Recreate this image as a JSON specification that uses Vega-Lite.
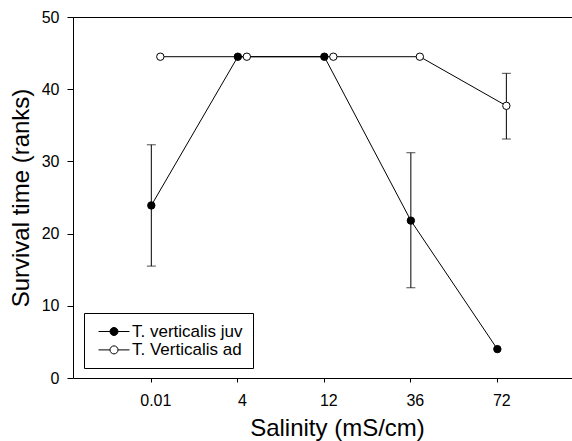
{
  "$schema": "https://vega.github.io/schema/vega-lite/v6.json",
  "width": 499,
  "height": 361,
  "autosize": {"type": "none"},
  "padding": {"left": 73, "top": 17, "right": 0, "bottom": 63},
  "background": "white",
  "config": {
    "view": {"stroke": null},
    "font": "Liberation Sans",
    "axis": {
      "grid": false,
      "domainColor": "black",
      "tickColor": "black",
      "labelColor": "black",
      "titleColor": "black",
      "labelFont": "Liberation Sans",
      "titleFont": "Liberation Sans",
      "titleFontWeight": "normal",
      "labelFontSize": 16,
      "titleFontSize": 24
    }
  },
  "data": {
    "values": [
      {"series": "T. verticalis juv", "salinity": "0.01", "rank": 23.9, "lo": 15.5, "hi": 32.3},
      {"series": "T. verticalis juv", "salinity": "4", "rank": 44.5},
      {"series": "T. verticalis juv", "salinity": "12", "rank": 44.5},
      {"series": "T. verticalis juv", "salinity": "36", "rank": 21.8, "lo": 12.5, "hi": 31.2},
      {"series": "T. verticalis juv", "salinity": "72", "rank": 4.0},
      {"series": "T. Verticalis ad", "salinity": "0.01", "rank": 44.5},
      {"series": "T. Verticalis ad", "salinity": "4", "rank": 44.5},
      {"series": "T. Verticalis ad", "salinity": "12", "rank": 44.5},
      {"series": "T. Verticalis ad", "salinity": "36", "rank": 44.5},
      {"series": "T. Verticalis ad", "salinity": "72", "rank": 37.7, "lo": 33.1, "hi": 42.2}
    ]
  },
  "layer": [
    {
      "mark": {"type": "rule", "color": "black", "strokeWidth": 1, "yOffset": 0.5},
      "encoding": {
        "y": {"datum": 50, "type": "quantitative", "scale": {"domain": [0, 50]}, "axis": {"title": "Survival time (ranks)"}}
      }
    },
    {
      "mark": {"type": "line", "color": "black", "strokeWidth": 1},
      "encoding": {
        "x": {"field": "salinity", "type": "ordinal", "sort": ["0.01", "4", "12", "36", "72"],
          "scale": {"type": "band", "paddingInner": 0.792, "paddingOuter": 0.78, "align": 0.547},
          "axis": {"title": "Salinity (mS/cm)", "labelAngle": 0, "tickSize": 4, "labelPadding": 10, "titlePadding": 8, "titleX": 264, "bandPosition": 0.25}},
        "xOffset": {"field": "series", "type": "nominal", "sort": ["T. verticalis juv", "T. Verticalis ad"], "scale": {"paddingInner": 0, "paddingOuter": 0}},
        "y": {"field": "rank", "type": "quantitative", "scale": {"domain": [0, 50]},
          "axis": {"title": "Survival time (ranks)", "values": [0, 10, 20, 30, 40, 50], "tickSize": 6, "labelPadding": 8, "titlePadding": 8}},
        "detail": {"field": "series"}
      }
    },
    {
      "transform": [{"filter": "isValid(datum.lo)"}],
      "mark": {"type": "rule", "color": "black", "strokeWidth": 1},
      "encoding": {
        "x": {"field": "salinity", "type": "ordinal", "sort": ["0.01", "4", "12", "36", "72"]},
        "xOffset": {"field": "series", "type": "nominal", "sort": ["T. verticalis juv", "T. Verticalis ad"]},
        "y": {"field": "lo", "type": "quantitative"},
        "y2": {"field": "hi"}
      }
    },
    {
      "transform": [{"filter": "isValid(datum.lo)"}],
      "mark": {"type": "tick", "color": "black", "thickness": 1, "size": 9, "orient": "horizontal"},
      "encoding": {
        "x": {"field": "salinity", "type": "ordinal", "sort": ["0.01", "4", "12", "36", "72"]},
        "xOffset": {"field": "series", "type": "nominal", "sort": ["T. verticalis juv", "T. Verticalis ad"]},
        "y": {"field": "lo", "type": "quantitative"}
      }
    },
    {
      "transform": [{"filter": "isValid(datum.hi)"}],
      "mark": {"type": "tick", "color": "black", "thickness": 1, "size": 9, "orient": "horizontal"},
      "encoding": {
        "x": {"field": "salinity", "type": "ordinal", "sort": ["0.01", "4", "12", "36", "72"]},
        "xOffset": {"field": "series", "type": "nominal", "sort": ["T. verticalis juv", "T. Verticalis ad"]},
        "y": {"field": "hi", "type": "quantitative"}
      }
    },
    {
      "mark": {"type": "point", "filled": true, "size": 55, "stroke": "black", "strokeWidth": 1, "opacity": 1},
      "encoding": {
        "x": {"field": "salinity", "type": "ordinal", "sort": ["0.01", "4", "12", "36", "72"]},
        "xOffset": {"field": "series", "type": "nominal", "sort": ["T. verticalis juv", "T. Verticalis ad"]},
        "y": {"field": "rank", "type": "quantitative"},
        "fill": {"field": "series", "type": "nominal",
          "scale": {"domain": ["T. verticalis juv", "T. Verticalis ad"], "range": ["black", "white"]},
          "legend": {"title": null, "orient": "none", "legendX": 11, "legendY": 296, "padding": 10,
            "strokeColor": "black", "fillColor": "white",
            "symbolType": "M-1,0H1.875M3.875,0H6.75M1.875,0A1,1 0 1,0 3.875,0A1,1 0 1,0 1.875,0Z",
            "symbolSize": 64, "symbolStrokeColor": "black", "symbolStrokeWidth": 1, "symbolOpacity": 1,
            "labelFontSize": 17, "labelOffset": 21, "rowPadding": 0.4, "labelFont": "Liberation Sans", "labelColor": "black"}}
      }
    }
  ]
}
